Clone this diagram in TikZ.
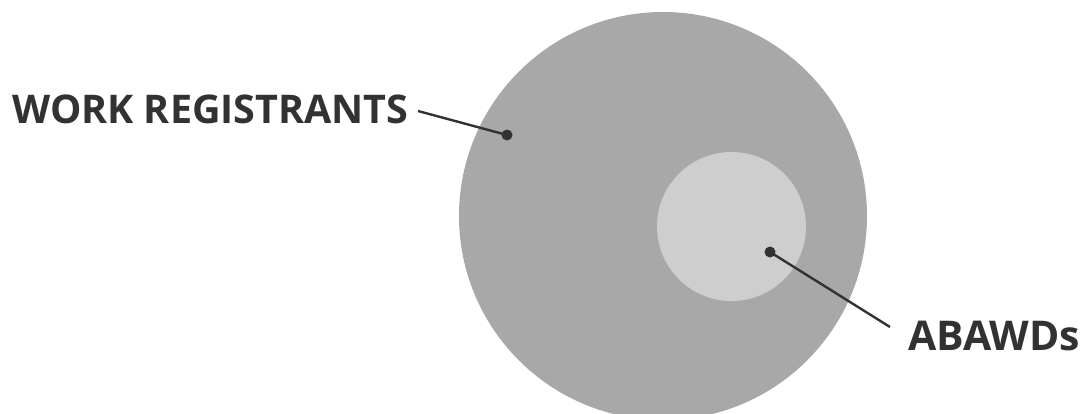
\documentclass[tikz,border=0pt]{standalone}
\usepackage{fontspec}
\setmainfont{Open Sans}
\definecolor{bigc}{RGB}{168,168,168}
\definecolor{smallc}{RGB}{206,206,206}
\definecolor{ink}{RGB}{50,50,50}
\begin{document}
\begin{tikzpicture}[x=1pt,y=-1pt,
  lbl/.style={inner sep=0pt,font=\fontsize{41}{48}\selectfont\bfseries,text=ink},
  lead/.style={draw=ink,line width=2.4pt},
  pin/.style={circle,fill=ink,inner sep=0pt,minimum size=11pt}]
\useasboundingbox (0,0) rectangle (1086,413);
\begin{scope}
\clip (0,0) rectangle (1086,413);
\fill[bigc] (663,216) circle (204);
\end{scope}
\fill[smallc] (731.5,226.5) circle (74.5);
\node[pin] (p1) at (507,135) {};
\node[pin] (p2) at (770,252) {};
\node[lbl,anchor=base west,font=\fontsize{39.5}{46}\selectfont\bfseries] (wr) at (12,123) {WORK REGISTRANTS};
\node[lbl,anchor=base west] (ab) at (908,350) {ABAWDs};
\coordinate (e1) at (418,111);
\coordinate (e2) at (890,327);
\draw[lead] (e1) -- (p1.center);
\draw[lead] (p2.center) -- (e2);
\end{tikzpicture}
\end{document}
